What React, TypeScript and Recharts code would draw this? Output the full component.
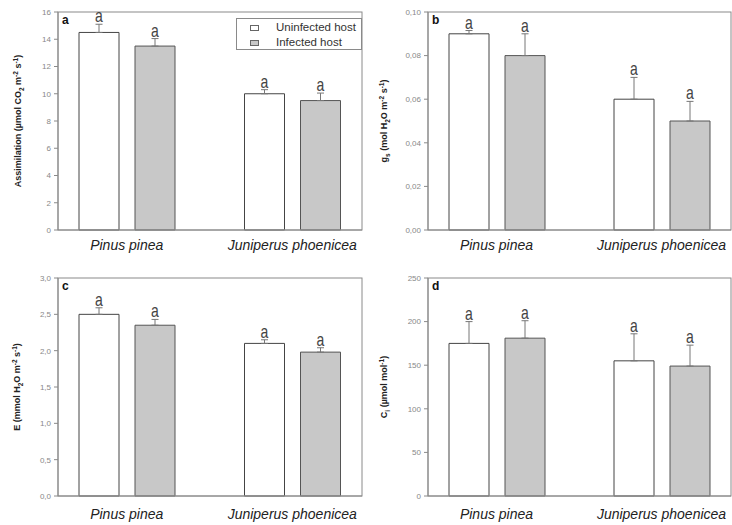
import * as React from "react"
import { BarChart, Bar, XAxis, YAxis, ErrorBar } from "recharts"

const species = ["Pinus pinea", "Juniperus phoenicea"]

// a: assimilation
const assimUninfected = [14.5, 10.0]
const assimUninfectedErr = [0.6, 0.3]
const assimInfected = [13.5, 9.5]
const assimInfectedErr = [0.55, 0.55]
const assimTicks = [0, 2, 4, 6, 8, 10, 12, 14, 16]

// b: stomatal conductance
const gsUninfected = [0.09, 0.06]
const gsUninfectedErr = [0.0015, 0.01]
const gsInfected = [0.08, 0.05]
const gsInfectedErr = [0.01, 0.009]
const gsTicks = [0, 0.02, 0.04, 0.06, 0.08, 0.1]

// c: transpiration
const eUninfected = [2.5, 2.1]
const eUninfectedErr = [0.09, 0.05]
const eInfected = [2.35, 1.98]
const eInfectedErr = [0.08, 0.06]
const eTicks = [0, 0.5, 1, 1.5, 2, 2.5, 3]

// d: intercellular CO2
const ciUninfected = [175, 155]
const ciUninfectedErr = [25, 31]
const ciInfected = [181, 149]
const ciInfectedErr = [20, 24]
const ciTicks = [0, 50, 100, 150, 200, 250]

const font = "'Liberation Sans', Arial, sans-serif"
const axisGray = "#8a8a8a"

type Part = { t: string; s?: "sub" | "sup" }

function buildData(un: number[], unErr: number[], inf: number[], infErr: number[]) {
  return species.map((name, i) => ({
    name,
    un: un[i],
    unErr: [0, unErr[i]],
    inf: inf[i],
    infErr: [0, infErr[i]],
  }))
}

// y title + frame (top/right border) + panel letter, drawn from the y axis viewBox
function AxisTitle(props: any) {
  const { viewBox, parts, dx, plotWidth, letter } = props
  const cx = viewBox.x + dx
  const cy = viewBox.y + viewBox.height / 2
  const px = viewBox.x + viewBox.width
  let cur = 0
  return (
    <g>
      <rect x={px} y={viewBox.y} width={plotWidth} height={viewBox.height} fill="none" stroke={axisGray} />
      <text x={px + 4} y={viewBox.y + 12} fontFamily={font} fontWeight="bold" fontSize={12} fill="#111">
        {letter}
      </text>
      <text
        x={cx}
        y={cy}
        transform={`rotate(-90, ${cx}, ${cy})`}
        textAnchor="middle"
        fontFamily={font}
        fontWeight="bold"
        fontSize={9}
        fill="#222"
      >
        {parts.map((p: Part, i: number) => {
          const want = p.s === "sub" ? 2.5 : p.s === "sup" ? -3.5 : 0
          const dy = want - cur
          cur = want
          return (
            <tspan key={i} dy={dy} fontSize={p.s ? 6.5 : 9}>
              {p.t}
            </tspan>
          )
        })}
      </text>
    </g>
  )
}

function makeLetterLabel(errs: number[]) {
  return (props: any) => {
    const { x, y, width, height, value, index } = props
    const k = height / value
    const top = y - errs[index] * k
    const cx = x + width / 2
    const by = top - 2
    return (
      <text
        x={cx}
        y={by}
        transform={`translate(${cx}, ${by}) scale(1, 1.3) translate(${-cx}, ${-by})`}
        textAnchor="middle"
        fontFamily={font}
        fontSize={14}
        fill="#444"
      >
        a
      </text>
    )
  }
}

interface PanelProps {
  left: number
  top: number
  width: number
  height: number
  marginRight: number
  data: any[]
  unErr: number[]
  infErr: number[]
  ticks: number[]
  format: (v: number) => string
  letter: string
  title: Part[]
  titleX: number
  xTickMargin: number
}

function Panel(p: PanelProps) {
  const max = p.ticks[p.ticks.length - 1]
  const plotWidth = p.width - 58 - p.marginRight
  return (
    <div style={{ position: "absolute", left: p.left, top: p.top }}>
      <BarChart
        width={p.width}
        height={p.height}
        data={p.data}
        margin={{ top: 12, right: p.marginRight, bottom: 0, left: 0 }}
        barSize={40}
        barGap={16}
      >
        <XAxis
          dataKey="name"
          height={p.height - 12 - 218}
          padding={{ left: -14, right: -13 }}
          tickLine={false}
          tickSize={0}
          tickMargin={p.xTickMargin}
          axisLine={{ stroke: axisGray }}
          tick={{ fontFamily: font, fontStyle: "italic", fontSize: 14, fill: "#222" }}
          interval={0}
        />
        <YAxis
          width={58}
          domain={[0, max]}
          ticks={p.ticks}
          tickFormatter={p.format}
          interval={0}
          tickSize={4}
          tickMargin={3}
          tickLine={{ stroke: axisGray }}
          axisLine={{ stroke: axisGray }}
          tick={{ fontFamily: font, fontSize: 8, fill: "#888" }}
          label={<AxisTitle parts={p.title} dx={p.titleX} plotWidth={plotWidth} letter={p.letter} />}
        />
        <Bar
          dataKey="un"
          name="Uninfected host"
          fill="#ffffff"
          stroke="#444"
          strokeWidth={1}
          isAnimationActive={false}
          label={makeLetterLabel(p.unErr)}
        >
          <ErrorBar dataKey="unErr" width={3.5} stroke="#777" strokeWidth={1} />
        </Bar>
        <Bar
          dataKey="inf"
          name="Infected host"
          fill="#c8c8c8"
          stroke="#555"
          strokeWidth={1}
          isAnimationActive={false}
          label={makeLetterLabel(p.infErr)}
        >
          <ErrorBar dataKey="infErr" width={3.5} stroke="#777" strokeWidth={1} />
        </Bar>
      </BarChart>
    </div>
  )
}

function LegendBox() {
  const row = (fill: string, stroke: string, text: string) => (
    <div style={{ display: "flex", alignItems: "center", height: 15 }}>
      <div style={{ width: 7, height: 4, background: fill, border: `1px solid ${stroke}`, marginLeft: 13, marginRight: 17 }} />
      <span>{text}</span>
    </div>
  )
  return (
    <div
      style={{
        position: "absolute",
        left: 236,
        top: 18,
        width: 126,
        height: 32,
        border: `1px solid ${axisGray}`,
        background: "#fff",
        fontFamily: font,
        fontSize: 11.5,
        color: "#333",
        lineHeight: "15px",
        paddingTop: 1,
        boxSizing: "border-box",
      }}
    >
      {row("#fff", "#666", "Uninfected host")}
      {row("#c8c8c8", "#666", "Infected host")}
    </div>
  )
}

const comma = (d: number) => (v: number) => v.toFixed(d).replace(".", ",")

export default function App() {
  return (
    <div style={{ position: "absolute", left: 0, top: 0, width: 732, height: 525, overflow: "hidden", background: "#fff" }}>
      <Panel
        left={0}
        top={0}
        width={370}
        height={262}
        marginRight={8}
        data={buildData(assimUninfected, assimUninfectedErr, assimInfected, assimInfectedErr)}
        unErr={assimUninfectedErr}
        infErr={assimInfectedErr}
        ticks={assimTicks}
        format={(v) => String(v)}
        letter="a"
        title={[
          { t: "Assimilation (\u00b5mol CO" },
          { t: "2", s: "sub" },
          { t: " m" },
          { t: "-2", s: "sup" },
          { t: " s" },
          { t: "-1", s: "sup" },
          { t: ")" },
        ]}
        titleX={21}
        xTickMargin={10}
      />
      <Panel
        left={370}
        top={0}
        width={362}
        height={262}
        marginRight={1}
        data={buildData(gsUninfected, gsUninfectedErr, gsInfected, gsInfectedErr)}
        unErr={gsUninfectedErr}
        infErr={gsInfectedErr}
        ticks={gsTicks}
        format={comma(2)}
        letter="b"
        title={[
          { t: "g" },
          { t: "s", s: "sub" },
          { t: " (mol H" },
          { t: "2", s: "sub" },
          { t: "O m" },
          { t: "-2", s: "sup" },
          { t: " s" },
          { t: "-1", s: "sup" },
          { t: ")" },
        ]}
        titleX={17}
        xTickMargin={10}
      />
      <Panel
        left={0}
        top={266}
        width={370}
        height={259}
        marginRight={8}
        data={buildData(eUninfected, eUninfectedErr, eInfected, eInfectedErr)}
        unErr={eUninfectedErr}
        infErr={eInfectedErr}
        ticks={eTicks}
        format={comma(1)}
        letter="c"
        title={[
          { t: "E (mmol H" },
          { t: "2", s: "sub" },
          { t: "O m" },
          { t: "-2", s: "sup" },
          { t: " s" },
          { t: "-1", s: "sup" },
          { t: ")" },
        ]}
        titleX={20}
        xTickMargin={13}
      />
      <Panel
        left={370}
        top={266}
        width={362}
        height={259}
        marginRight={1}
        data={buildData(ciUninfected, ciUninfectedErr, ciInfected, ciInfectedErr)}
        unErr={ciUninfectedErr}
        infErr={ciInfectedErr}
        ticks={ciTicks}
        format={(v) => String(v)}
        letter="d"
        title={[
          { t: "C" },
          { t: "i", s: "sub" },
          { t: " (\u00b5mol mol" },
          { t: "-1", s: "sup" },
          { t: ")" },
        ]}
        titleX={17}
        xTickMargin={13}
      />
      <LegendBox />
    </div>
  )
}
